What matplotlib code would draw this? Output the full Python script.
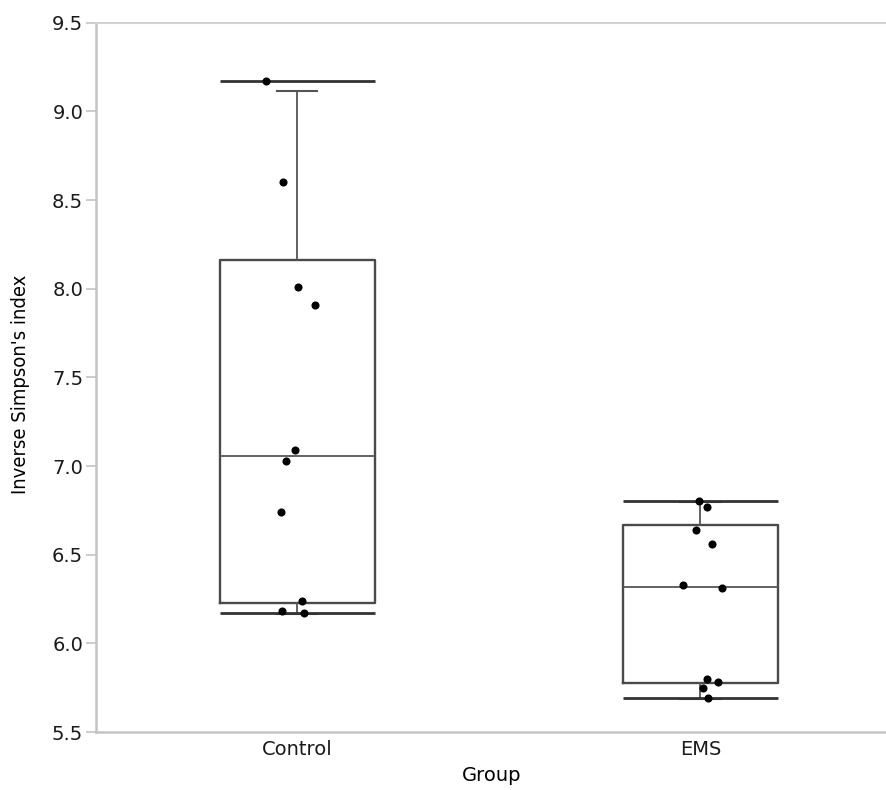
import matplotlib
matplotlib.use("Agg")
import matplotlib.pyplot as plt
import numpy as np

groups = ["Control", "EMS"]

control_vals = [9.17, 8.60, 8.01, 7.91, 7.09, 7.03, 6.74, 6.24, 6.18, 6.17]
ems_vals = [6.80, 6.77, 6.64, 6.56, 6.33, 6.31, 5.80, 5.78, 5.75, 5.69]
# horizontal jitter of the dots, in category units
control_jit = [-0.078, -0.036, 0.001, 0.043, -0.006, -0.029, -0.041, 0.011, -0.038, 0.016]
ems_jit = [-0.004, 0.016, -0.011, 0.029, -0.043, 0.053, 0.016, 0.043, 0.006, 0.019]

# box summary as drawn
q1 = [6.227, 5.778]
med = [7.056, 6.319]
q3 = [8.162, 6.665]
whis_lo = [6.165, 5.686]
whis_hi = [9.115, 6.795]

values = [control_vals, ems_vals]
jitter = [control_jit, ems_jit]

fig = plt.figure(figsize=(8.87, 7.90), dpi=100)
ax = fig.add_axes([0.1079, 0.0734, 0.8921, 0.8979])

stats = []
for i, g in enumerate(groups):
    stats.append(dict(label=g, med=med[i], q1=q1[i], q3=q3[i],
                      whislo=whis_lo[i], whishi=whis_hi[i], fliers=[]))

box_w = 0.385
ax.bxp(stats, positions=[0, 1], widths=box_w, showfliers=False,
       capwidths=0.1,
       boxprops=dict(color="#4a4a4a", linewidth=1.7),
       medianprops=dict(color="#555555", linewidth=1.3),
       whiskerprops=dict(color="#555555", linewidth=1.3),
       capprops=dict(color="#555555", linewidth=1.5))

# min / max lines across the box width
for i, v in enumerate(values):
    ax.hlines([min(v), max(v)], i - box_w / 2, i + box_w / 2,
              color="#333333", linewidth=2.0, zorder=3)
    xs = np.array(jitter[i]) + i
    ax.scatter(xs, v, s=34, color="black", zorder=4, linewidths=0)

ax.set_xlim(-0.5, 1.463)
ax.set_ylim(5.5, 9.5)
ax.set_yticks(np.arange(5.5, 9.51, 0.5))
ax.set_yticklabels([f"{t:.1f}" for t in np.arange(5.5, 9.51, 0.5)])
ax.set_xticks([0, 1])
ax.set_xticklabels(groups)

for s in ["left", "bottom"]:
    ax.spines[s].set_color("#c4c4c4")
    ax.spines[s].set_linewidth(1.8)
ax.spines["top"].set_color("#d2d2d2")
ax.spines["top"].set_linewidth(1.5)
ax.spines["right"].set_visible(False)

ax.tick_params(axis="y", length=7, width=1.2, color="#c4c4c4", pad=2,
               labelsize=14, labelcolor="#1a1a1a")
ax.tick_params(axis="x", length=0, pad=6, labelsize=14, labelcolor="#1a1a1a")

ax.set_ylabel("Inverse Simpson's index", fontsize=14.5, fontstretch="condensed",
              family=["Liberation Sans Narrow", "DejaVu Sans"], labelpad=12)
ax.yaxis.set_label_coords(-0.083, 0.49)
ax.set_xlabel("Group", fontsize=14, labelpad=5)

plt.savefig("out.png", dpi=100)
